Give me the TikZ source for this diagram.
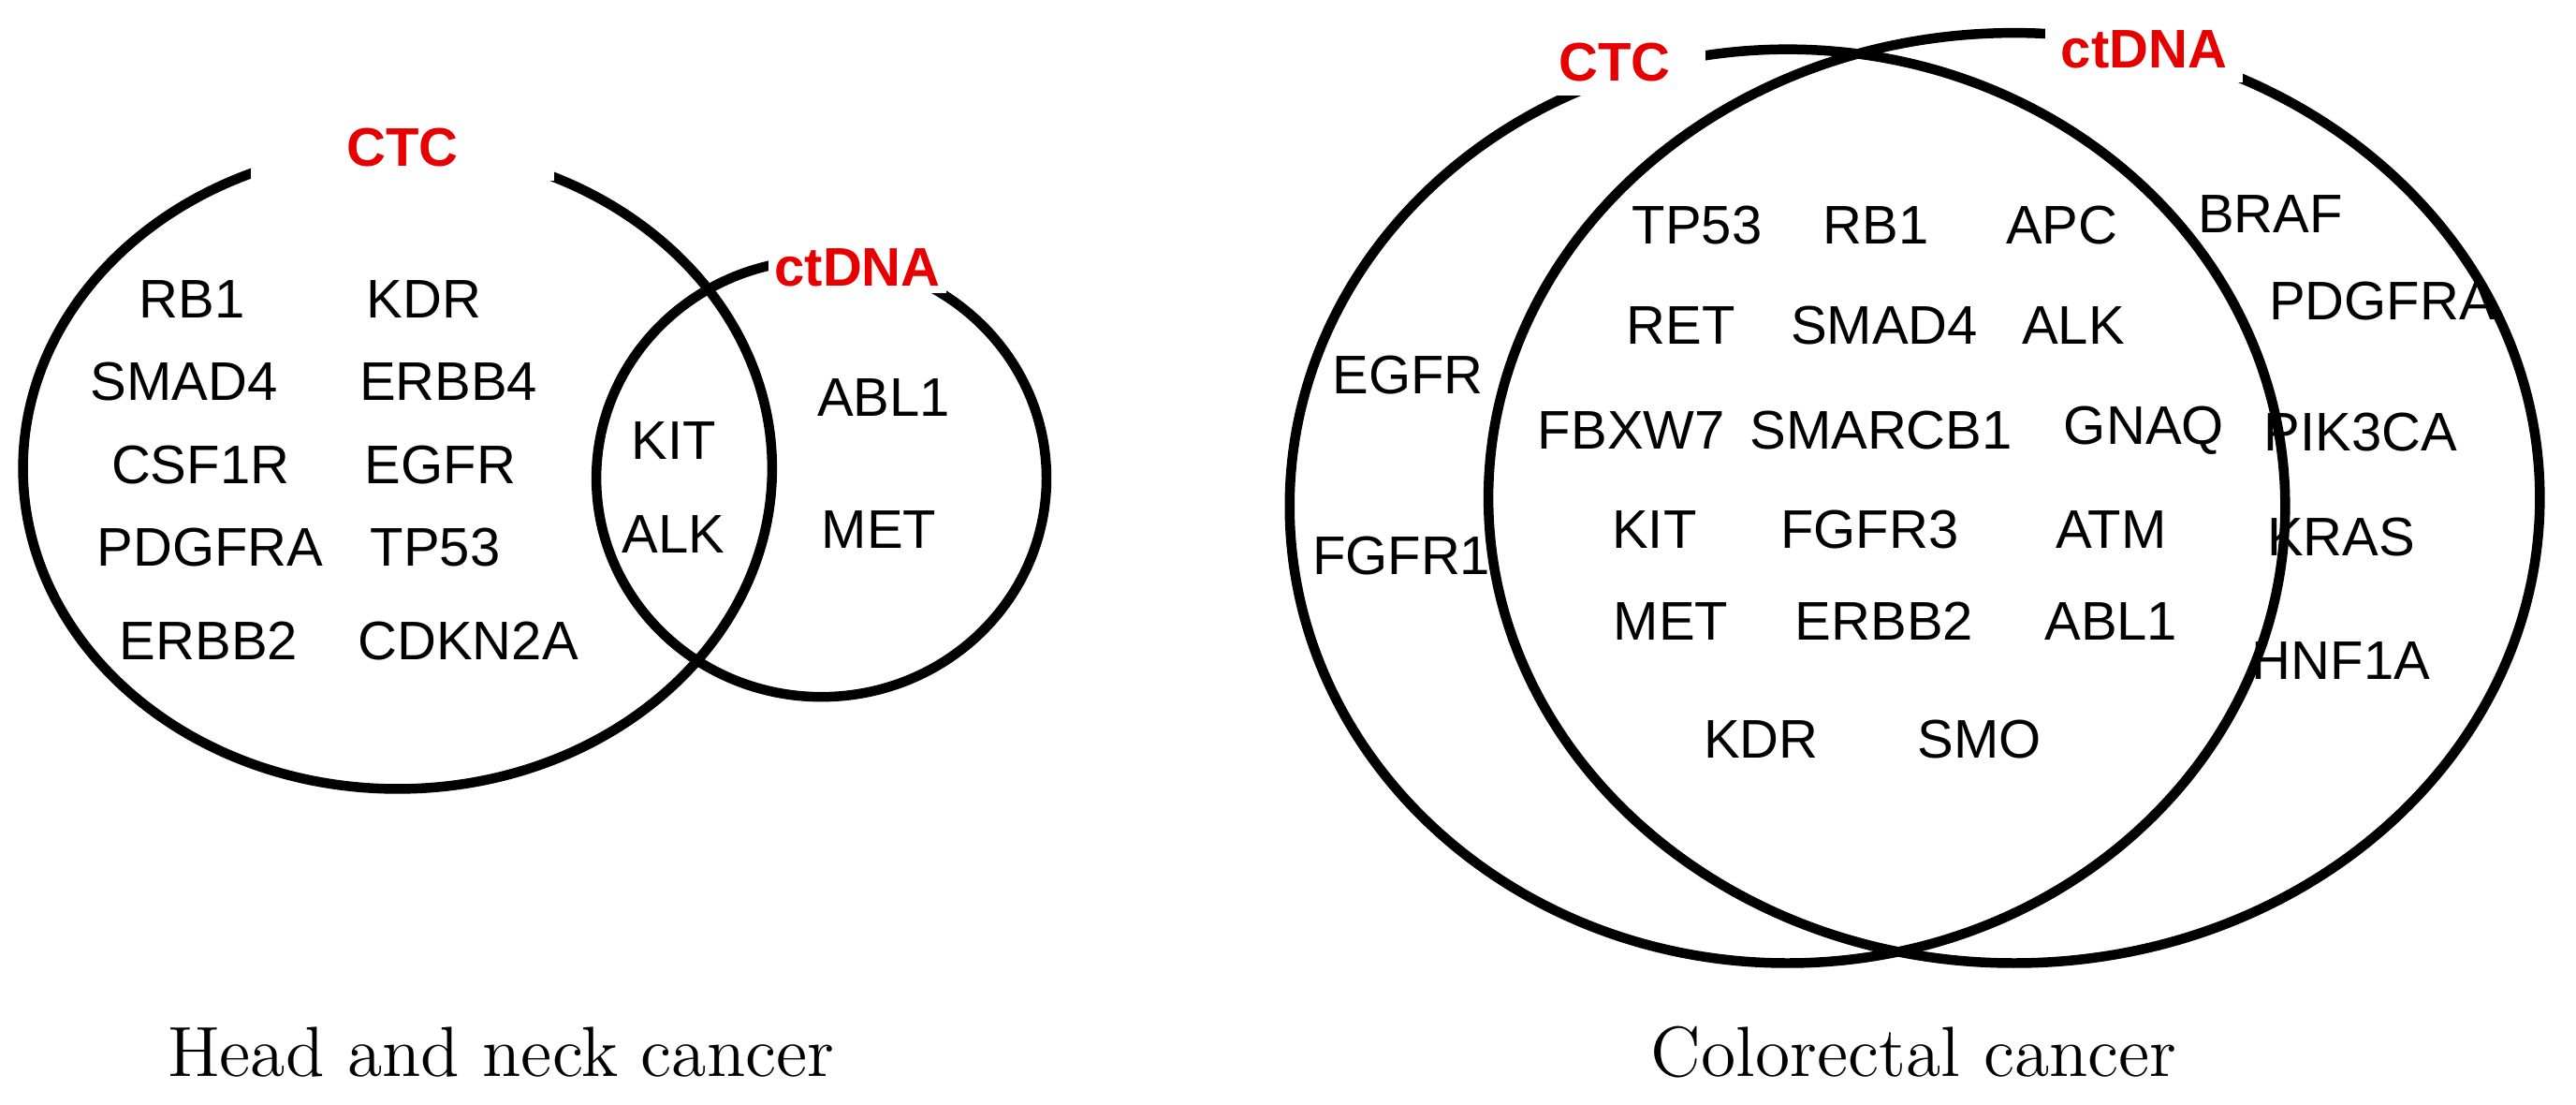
\documentclass[tikz,border=0pt]{standalone}
\usepackage{fontspec}
\setmainfont{Liberation Sans}
\newfontfamily\capfont{Latin Modern Roman}
\usetikzlibrary{shapes,arrows}
\definecolor{setred}{RGB}{230,0,0}
\tikzset{
  gene/.style={font=\fontsize{9.4}{11}\selectfont,inner sep=0pt},
  setlabel/.style={font=\fontsize{9.4}{11}\selectfont\bfseries,text=setred,fill=white,inner sep=1pt,minimum height=0.4cm},
  caption/.style={font=\capfont\fontsize{12.3}{14}\selectfont},
  ring/.style={line width=1.7pt}
}
\begin{document}
\begin{tikzpicture}[x=0.01cm,y=-0.01cm]
  \useasboundingbox (0,0) rectangle (1568,672);

  %head and neck
  \draw[ring] (242,285) ellipse [x radius=228,y radius=195];
  \draw[ring] (500,291) ellipse [x radius=137,y radius=133];
  \node[setlabel,minimum width=1.85cm] (ctcA) at (245,90) {CTC};
  \node[setlabel,minimum width=1.05cm,minimum height=0.3cm] (dnaA) at (522,163) {ctDNA};

  \node[gene] (a1) at (117,182) {RB1};
  \node[gene] (a2) at (258,182) {KDR};
  \node[gene] (a3) at (112,232) {SMAD4};
  \node[gene] (a4) at (273,232) {ERBB4};
  \node[gene] (a5) at (122,283) {CSF1R};
  \node[gene] (a6) at (268,283) {EGFR};
  \node[gene] (a7) at (128,333) {PDGFRA};
  \node[gene] (a8) at (265,333) {TP53};
  \node[gene] (a9) at (127,390) {ERBB2};
  \node[gene] (a10) at (285,390) {CDKN2A};
  \node[gene] (a11) at (410,268) {KIT};
  \node[gene] (a12) at (410,325) {ALK};
  \node[gene] (a13) at (538,242) {ABL1};
  \node[gene] (a14) at (535,322) {MET};

  %colorectal
  \draw[ring] (1088,308) ellipse [x radius=303,y radius=278];
  \draw[ring] (1226,303) ellipse [x radius=320,y radius=283];
  \node[setlabel,minimum width=1.1cm] (ctcB) at (983,38) {CTC};
  \node[setlabel,minimum width=1.2cm] (dnaB) at (1305,30) {ctDNA};

  \node[gene] (b1) at (857,228) {EGFR};
  \node[gene] (b2) at (853,338) {FGFR1};
  \node[gene] (b3) at (1033,137) {TP53};
  \node[gene] (b4) at (1142,137) {RB1};
  \node[gene] (b5) at (1255,137) {APC};
  \node[gene] (b6) at (1023,198) {RET};
  \node[gene] (b7) at (1147,198) {SMAD4};
  \node[gene] (b8) at (1262,198) {ALK};
  \node[gene] (b9) at (993,262) {FBXW7};
  \node[gene] (b10) at (1145,262) {SMARCB1};
  \node[gene] (b11) at (1305,262) {GNAQ};
  \node[gene] (b12) at (1007,322) {KIT};
  \node[gene] (b13) at (1138,322) {FGFR3};
  \node[gene] (b14) at (1285,322) {ATM};
  \node[gene] (b15) at (1017,378) {MET};
  \node[gene] (b16) at (1147,378) {ERBB2};
  \node[gene] (b17) at (1285,378) {ABL1};
  \node[gene] (b18) at (1072,450) {KDR};
  \node[gene] (b19) at (1205,450) {SMO};
  \node[gene] (b20) at (1382,130) {BRAF};
  \node[gene] (b21) at (1450,183) {PDGFRA};
  \node[gene] (b22) at (1437,263) {PIK3CA};
  \node[gene] (b23) at (1425,327) {KRAS};
  \node[gene] (b24) at (1425,402) {HNF1A};

  \node[caption] (capA) at (305,640) {Head and neck cancer};
  \node[caption] (capB) at (1165,640) {Colorectal cancer};
\end{tikzpicture}
\end{document}
